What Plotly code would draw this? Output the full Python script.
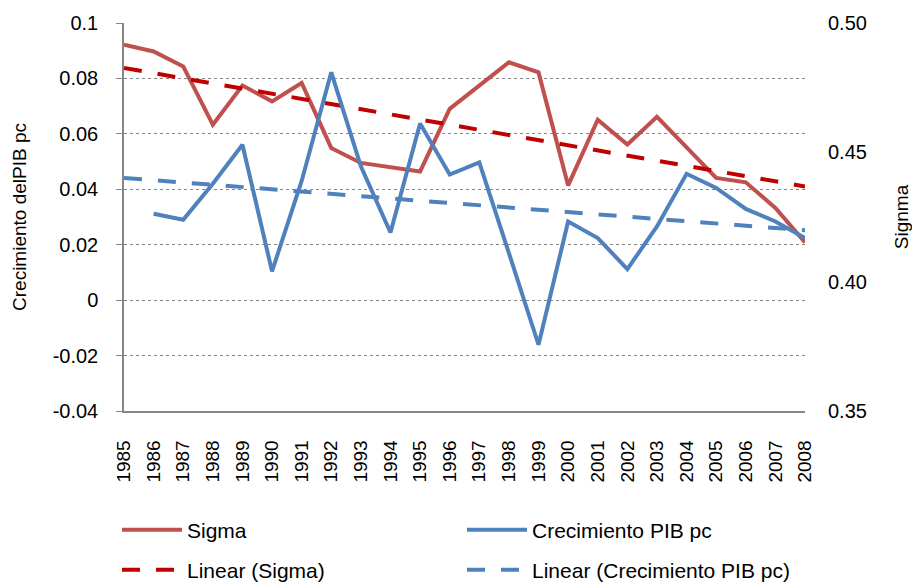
import plotly.graph_objects as go

# --------------------------------------------------
# DATA
# --------------------------------------------------

years = [str(y) for y in range(1985, 2009)]

sigma = [0.4916, 0.4890, 0.4832, 0.4607, 0.4758, 0.4697, 0.4768, 0.4517,
         0.4459, 0.4443, 0.4426, 0.4668, 0.4759, 0.4848, 0.4809, 0.4372,
         0.4626, 0.4530, 0.4637, 0.4517, 0.4401, 0.4384, 0.4285, 0.4152]

pib_years = years[1:]
pib = [0.0312, 0.0290, 0.0420, 0.0561, 0.0104, 0.0430, 0.0822, 0.0483,
       0.0244, 0.0637, 0.0453, 0.0497, 0.0170, -0.0161, 0.0284, 0.0224,
       0.0112, 0.0266, 0.0456, 0.0405, 0.0329, 0.0284, 0.0224]

trend_years = ["1985", "2008"]
sigma_trend = [0.4826, 0.4368]
pib_trend = [0.0441, 0.0252]

left_ticks = [0.1, 0.08, 0.06, 0.04, 0.02, 0, -0.02, -0.04]
left_labels = ["0.1", "0.08", "0.06", "0.04", "0.02", "0", "-0.02", "-0.04"]
right_ticks = [0.35, 0.40, 0.45, 0.50]
right_labels = ["0.35", "0.40", "0.45", "0.50"]

# --------------------------------------------------
# STYLE
# --------------------------------------------------

FONT = "Liberation Sans, Arial, sans-serif"
RED = "#C0504D"
DARK_RED = "#C00000"
BLUE = "#4F81BD"
GREY = "#868686"
DASH = "18px,16px"

fig = go.Figure()

# Sigma on the right-hand axis (primary, drawn underneath)
fig.add_trace(go.Scatter(
    x=years, y=sigma, mode="lines", name="Sigma",
    line=dict(color=RED, width=4), yaxis="y", legend="legend"
))
fig.add_trace(go.Scatter(
    x=trend_years, y=sigma_trend, mode="lines", name="Linear (Sigma)",
    line=dict(color=DARK_RED, width=4, dash=DASH), yaxis="y", legend="legend3"
))

# Crecimiento PIB on the left-hand axis (overlay, drawn on top)
fig.add_trace(go.Scatter(
    x=pib_years, y=pib, mode="lines", name="Crecimiento PIB pc",
    line=dict(color=BLUE, width=4), yaxis="y2", legend="legend2"
))
fig.add_trace(go.Scatter(
    x=trend_years, y=pib_trend, mode="lines", name="Linear (Crecimiento PIB pc)",
    line=dict(color=BLUE, width=4, dash=DASH), yaxis="y2", legend="legend4"
))

legend_common = dict(
    orientation="h", xanchor="left", yanchor="middle",
    xref="container", yref="container",
    font=dict(family=FONT, size=21, color="#000"),
    bgcolor="rgba(0,0,0,0)", itemwidth=60
)

fig.update_layout(
    width=912,
    height=582,
    showlegend=True,
    margin=dict(l=124, r=107, t=23, b=171, autoexpand=False),
    paper_bgcolor="white",
    plot_bgcolor="white",
    font=dict(family=FONT, size=20, color="#000"),
    xaxis=dict(
        type="category",
        categoryorder="array",
        categoryarray=years,
        tickangle=-90,
        tickfont=dict(size=19),
        showline=True,
        linecolor=GREY,
        linewidth=1.5,
        ticks="",
        showgrid=False,
        ticklabelstandoff=20
    ),
    yaxis=dict(
        side="right",
        range=[0.35, 0.50],
        tickvals=right_ticks,
        ticktext=right_labels,
        showgrid=False,
        zeroline=False,
        showline=False,
        ticks="",
        ticklabelstandoff=22,
        title=dict(text="Signma", standoff=28, font=dict(size=19))
    ),
    yaxis2=dict(
        overlaying="y",
        side="left",
        range=[-0.04, 0.1],
        tickvals=left_ticks,
        ticktext=left_labels,
        showgrid=True,
        gridcolor=GREY,
        griddash="dot",
        gridwidth=1,
        zeroline=False,
        showline=True,
        linecolor=GREY,
        linewidth=1.5,
        ticks="outside",
        ticklen=6,
        tickcolor=GREY,
        ticklabelstandoff=14,
        title=dict(text="Crecimiento delPIB pc", standoff=21, font=dict(size=19))
    ),
    legend=dict(x=0.1283, y=0.0893, **legend_common),
    legend2=dict(x=0.5066, y=0.0893, **legend_common),
    legend3=dict(x=0.1283, y=0.0206, **legend_common),
    legend4=dict(x=0.5066, y=0.0206, **legend_common),
)

# the page's default 8px body margin would push the chart off the window
fig.write_html(
    "out.html",
    config={"displayModeBar": False},
    post_script="document.body.style.margin = '0px';"
)
